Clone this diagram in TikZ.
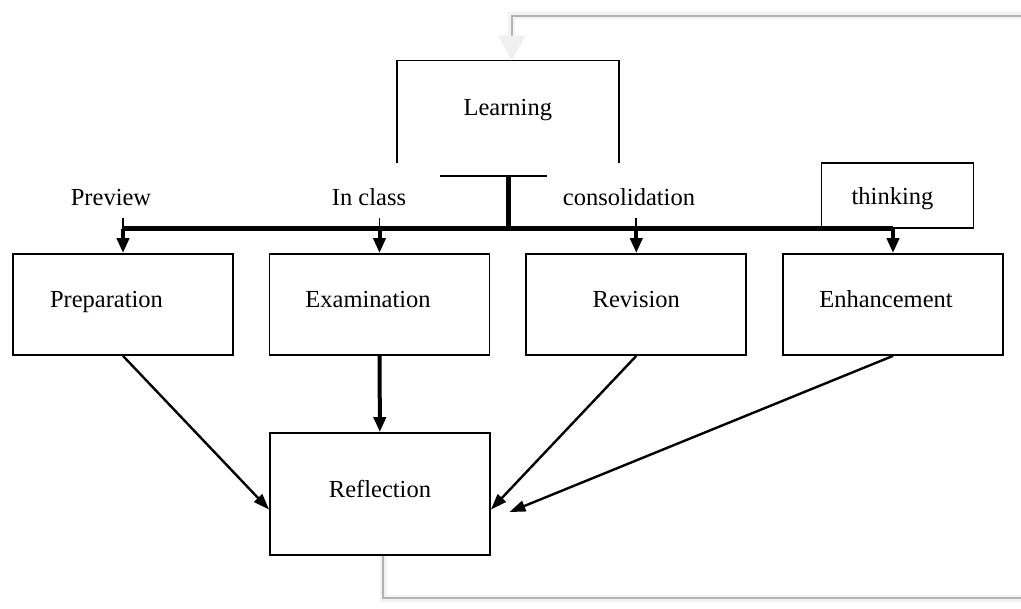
\documentclass[tikz,border=0pt]{standalone}
\usepackage{fontspec}
\setmainfont{Liberation Serif}
\usetikzlibrary{arrows.meta}

\tikzset{
  stage/.style={draw, line width=1.8pt, minimum width=220pt, minimum height=101pt,
    text height=17pt, text depth=10pt, inner sep=0pt},
  tag/.style={draw, line width=1.8pt, minimum width=152pt, minimum height=65pt,
    text height=24pt, text depth=5pt, inner sep=0pt},
  lbl/.style={anchor=base, inner sep=12pt},
  bus/.style={line width=5pt},
  stub/.style={line width=1.8pt},
  downarr/.style={line width=4pt, -{Triangle[length=15pt,width=12pt]}},
  diag/.style={line width=2.4pt, -{Triangle[length=16pt,width=11pt]}},
  feed/.style={draw=gray!60, line width=2.5pt,
    preaction={draw=gray!10, line width=7pt},
    -{Triangle[length=25pt,width=26pt,fill=gray!12,color=gray!12]}}
}

\begin{document}
\begin{tikzpicture}[x=1pt,y=-1pt,font=\fontsize{24.5}{29}\selectfont]
  \useasboundingbox (0,0) rectangle (1021,609);
  \draw
    (507.8,112) node[stage,draw=none] (learn){Learning}
    (897.5,195.5) node[tag] (think){thinking\hspace*{10pt}}
    (111,206) node[lbl] (prev){Preview}
    (369,206) node[lbl] (incl){In class}
    (629,206) node[lbl] (cons){consolidation}
    (123,304.5) node[stage] (prep){Preparation\hspace*{33pt}}
    (379.5,304.5) node[stage] (exam){Examination\hspace*{23pt}}
    (636.3,304.5) node[stage] (rev){Revision}
    (893,304.5) node[stage] (enh){Enhancement\hspace*{14pt}}
    (380,494) node[stage,minimum height=122pt] (refl){Reflection};
  \coordinate (bus) at (508,229);
  \coordinate (tl) at (440,176);
  \coordinate (tr) at (547,176);
  \coordinate (fbB) at (1026,598);
  \coordinate (fbT) at (1026,16);
  % learning frame and bus
  \begin{scope}[line width=1.6pt]
    \draw (learn.south west) |- (learn.north) -| (learn.south east);
    \draw (tl) -- (tr);
  \end{scope}
  \draw[bus] (tl -| bus) -- (bus);
  \draw[bus] (bus -| prep) -- (bus -| enh);
  \foreach \a/\b in {prev/prep, incl/exam, cons/rev}
    \draw[stub] (\a.south -| \b) -- (bus -| \b);
  \foreach \b in {prep, exam, rev, enh}
    \draw[downarr] (bus -| \b) -- (\b);
  % into reflection
  \begin{scope}
    \draw[diag] (prep.south) -- (refl.188);
    \draw[downarr] (exam) -- (refl);
    \draw[diag] (rev.south) -- (refl.352);
    \draw[diag, shorten >=20pt] (enh.south) -- (refl.347);
  \end{scope}
  % feedback
  \draw[feed] ([xshift=3pt]refl.south) |- (fbB) -- (fbT) -| ([xshift=4pt]learn.north);
\end{tikzpicture}
\end{document}
